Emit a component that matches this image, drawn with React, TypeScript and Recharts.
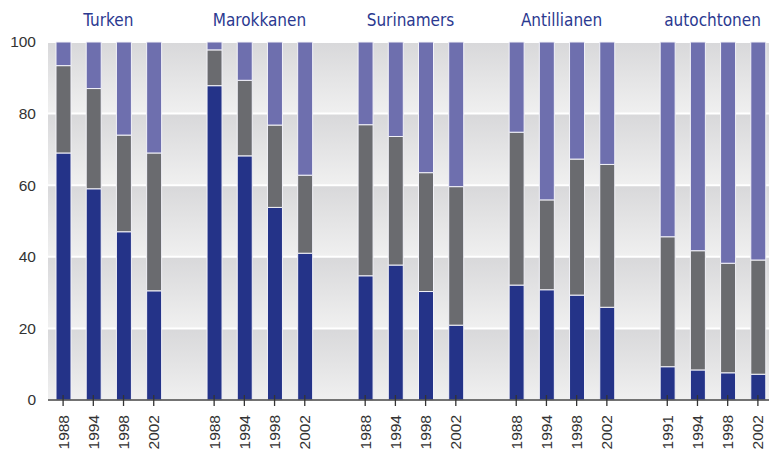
import { BarChart, Bar, XAxis, YAxis, CartesianGrid } from "recharts";

// groups, years per group and the three shares (bottom to top)
const groups = ["Turken", "Marokkanen", "Surinamers", "Antillianen", "autochtonen"];
const years = [
  ["1988", "1994", "1998", "2002"],
  ["1988", "1994", "1998", "2002"],
  ["1988", "1994", "1998", "2002"],
  ["1988", "1994", "1998", "2002"],
  ["1991", "1994", "1998", "2002"],
];
const blue = [
  [69.0, 59.0, 47.0, 30.5],
  [87.8, 68.2, 53.8, 41.0],
  [34.7, 37.7, 30.3, 20.9],
  [32.1, 30.8, 29.3, 25.9],
  [9.3, 8.4, 7.6, 7.2],
];
const grey = [
  [24.4, 28.0, 27.0, 38.5],
  [10.0, 21.1, 23.0, 21.8],
  [42.2, 35.9, 33.2, 38.7],
  [42.7, 25.1, 38.0, 39.9],
  [36.3, 33.3, 30.6, 31.9],
];
const yTicks = [0, 20, 40, 60, 80, 100];

const W = 780;
const H = 453;
const LEFT = 48;
const RIGHT = 7;
const SANS = "'Liberation Sans', Arial, Helvetica, sans-serif";
const NARROW = "'Liberation Sans Narrow', 'Arial Narrow', 'DejaVu Sans Condensed', sans-serif";

type Row = {
  key: string;
  year: string;
  title: string;
  blue?: number;
  grey?: number;
  lav?: number;
};

const rows: Row[] = [];
groups.forEach((g, gi) => {
  if (gi > 0) rows.push({ key: "gap" + gi, year: "", title: "" });
  years[gi].forEach((y, i) => {
    const b = blue[gi][i];
    const gr = grey[gi][i];
    rows.push({
      key: g + y,
      year: y,
      title: i === 1 ? g : "",
      blue: b,
      grey: gr,
      lav: +(100 - b - gr).toFixed(1),
    });
  });
});

const slot = (W - LEFT - RIGHT) / rows.length;

const YearTick = (props: any) => {
  const { x, y, payload } = props;
  if (!payload.value) return null;
  const ty = y + 15;
  return (
    <g>
      <line x1={x} x2={x} y1={y - 5} y2={y + 6} stroke="#333" strokeWidth={1.3} />
      <text
        x={x}
        y={ty}
        dy="0.35em"
        textAnchor="end"
        transform={`rotate(-90, ${x}, ${ty})`}
        style={{ fill: "#333", fontSize: 15.5, fontFamily: SANS }}
      >
        {payload.value}
      </text>
    </g>
  );
};

const TitleTick = (props: any) => {
  const { x, payload } = props;
  if (!payload.value) return null;
  return (
    <text
      x={x + slot / 2}
      y={26}
      textAnchor="middle"
      style={{ fill: "#2b3990", fontSize: 17, fontFamily: NARROW }}
    >
      {payload.value}
    </text>
  );
};

const ValueTick = (props: any) => {
  const { x, y, payload } = props;
  return (
    <text
      x={x}
      y={y}
      dy="0.35em"
      textAnchor="end"
      style={{ fill: "#333", fontSize: 15.5, fontFamily: SANS }}
    >
      {payload.value}
    </text>
  );
};

export default function App() {
  return (
    <div
      style={{
        position: "absolute",
        left: 0,
        top: 0,
        width: 769,
        height: H,
        overflow: "hidden",
        background: "#fff",
      }}
    >
      <BarChart
        width={W}
        height={H}
        data={rows}
        margin={{ top: 0, right: RIGHT, bottom: 0, left: 0 }}
      >
        <defs>
          <linearGradient id="band" x1="0" y1="0" x2="0" y2="1">
            <stop offset="0%" stopColor="#d8d8da" />
            <stop offset="100%" stopColor="#f0f0f0" />
          </linearGradient>
        </defs>
        <CartesianGrid
          vertical={false}
          stroke="#ffffff"
          strokeWidth={2}
          horizontalFill={["url(#band)"]}
        />
        <XAxis
          dataKey="year"
          interval={0}
          height={53}
          tickLine={false}
          tickSize={0}
          tickMargin={0}
          axisLine={{ stroke: "#444", strokeWidth: 1.5 }}
          tick={<YearTick />}
        />
        <XAxis
          xAxisId="top"
          orientation="top"
          dataKey="title"
          interval={0}
          height={42}
          axisLine={false}
          tickLine={false}
          tick={<TitleTick />}
        />
        <YAxis
          width={LEFT}
          domain={[0, 100]}
          ticks={yTicks}
          axisLine={false}
          tickLine={false}
          tickSize={0}
          tickMargin={12}
          tick={<ValueTick />}
        />
        <Bar dataKey="blue" stackId="a" barSize={15} fill="#243388" stroke="#f2f2f8" strokeWidth={1} isAnimationActive={false} />
        <Bar dataKey="grey" stackId="a" barSize={15} fill="#6a6b6f" stroke="#f2f2f8" strokeWidth={1} isAnimationActive={false} />
        <Bar dataKey="lav" stackId="a" barSize={15} fill="#6e6fae" stroke="#f2f2f8" strokeWidth={1} isAnimationActive={false} />
      </BarChart>
    </div>
  );
}
